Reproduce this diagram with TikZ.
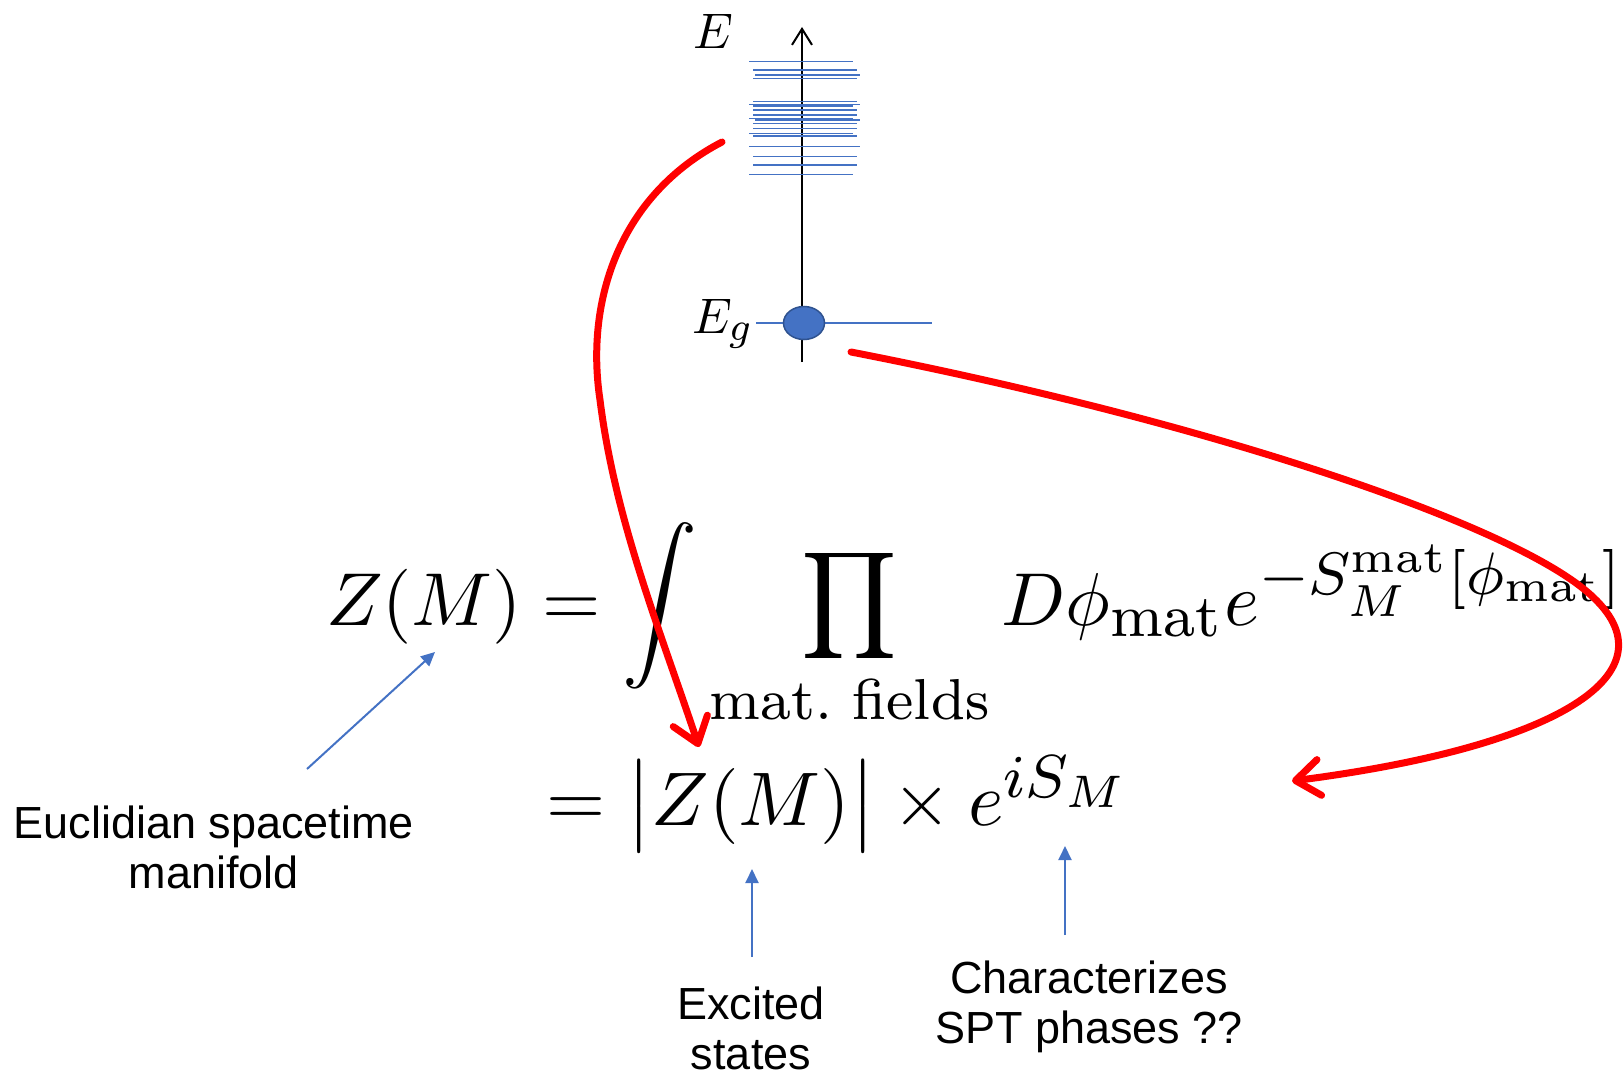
\documentclass[tikz,border=0pt]{standalone}
\usepackage{graphicx}
\usepackage{fontspec}
\newfontfamily\lblfont{Liberation Sans}
\usetikzlibrary{arrows.meta,shapes.geometric}
\DeclareMathSizes{10}{10}{8}{6}
\definecolor{pptblue}{HTML}{4472C4}
\definecolor{pptdark}{HTML}{2F528F}
\newcommand{\matf}{\mbox{\fontsize{7.7}{8}\selectfont mat.\ fields}}
\begin{document}
\begin{tikzpicture}[x=1pt,y=-1pt,
  level/.style={pptblue,line width=1.3pt},
  axisline/.style={black,line width=2pt,-{Straight Barb[length=16pt,width=20pt]}},
  redarrow/.style={red,line width=7pt,line cap=round,-{Straight Barb[length=24pt,width=36pt,round]}},
  bluearrow/.style={pptblue,line width=2pt,-{Triangle[length=14pt,width=13pt]}},
  lbl/.style={font=\lblfont\fontsize{45}{50}\selectfont,align=center,inner sep=0pt,anchor=base},
  eqn/.style={inner sep=0pt,anchor=base west},
  elbl/.style={inner sep=0pt},
  ]
\useasboundingbox (0,0) rectangle (1623,1073);

% energy axis
\coordinate (axbot) at (802,362);
\coordinate (axtop) at (802,27);
\draw[axisline] (axbot) -- (axtop);
\node[elbl] (Elbl) at (713,31) {\scalebox{5}{$E$}};

% excited levels
\foreach \y/\a/\b in {61.7/749/853, 70/753/857, 75/755/860, 78.3/753/857,
  101.7/753/857, 104.3/749/860, 106/753/853, 110/753/857, 115/753/857,
  118.3/749/853, 120/755/860, 123.3/753/857, 128.3/753/857, 133.3/749/853,
  136/753/857, 146.7/749/853, 146.7/755/860, 156.7/753/857, 165/753/857, 174.3/749/853}
  \draw[level] (\a,\y) -- (\b,\y);

% ground state
\coordinate (gl) at (756,323);
\coordinate (gr) at (932,323);
\draw[level] (gl) -- (gr);
\node[ellipse,fill=pptblue,draw=pptdark,line width=1.5pt,minimum width=41pt,minimum height=33pt,inner sep=0pt] (gsdot) at (804,323) {};
\node[elbl,anchor=base west] (Eglbl) at (692,333) {\scalebox{5}{$E_g$}};

% equations
\node[eqn] (eq1) at (326,625) {\scalebox{7.5}{$Z(M) = \displaystyle\int \prod\limits_{\matf} D\phi_{\mathrm{mat}} e^{-S_M^{\mathrm{mat}}[\phi_{\mathrm{mat}}]}$}};
\node[eqn] (eq2) at (546,825) {\scalebox{7.6}{$= \bigl|Z(M)\bigr| \times e^{iS_M}$}};

% labels
\node[lbl] (euclid) at (214,888) {Euclidian spacetime\\manifold};
\node[lbl] (excited) at (751,1069) {Excited\\states};
\node[lbl] (charact) at (1089,1043) {Characterizes\\SPT phases ??};

% blue arrows
\coordinate (eu1) at (307,769);
\coordinate (eu2) at (435,652);
\draw[bluearrow] (eu1) -- (eu2);
\coordinate (ex1) at (752,957);
\coordinate (ex2) at (752,869);
\draw[bluearrow] (ex1) -- (ex2);
\coordinate (ch1) at (1065,935);
\coordinate (ch2) at (1065,846);
\draw[bluearrow] (ch1) -- (ch2);

% red arrows
\coordinate (exc) at (722,142);
\coordinate (absZ) at (699,747);
\coordinate (gs) at (851,352);
\coordinate (phase) at (1292,781);
\draw[redarrow] (exc) .. controls (620,195) and (585,300) .. (600,400)
  .. controls (615,520) and (660,630) .. (absZ);
\draw[redarrow] (gs) .. controls (1200,420) and (1500,520) .. (1585,590)
  .. controls (1680,668) and (1570,745) .. (phase);
\end{tikzpicture}
\end{document}
